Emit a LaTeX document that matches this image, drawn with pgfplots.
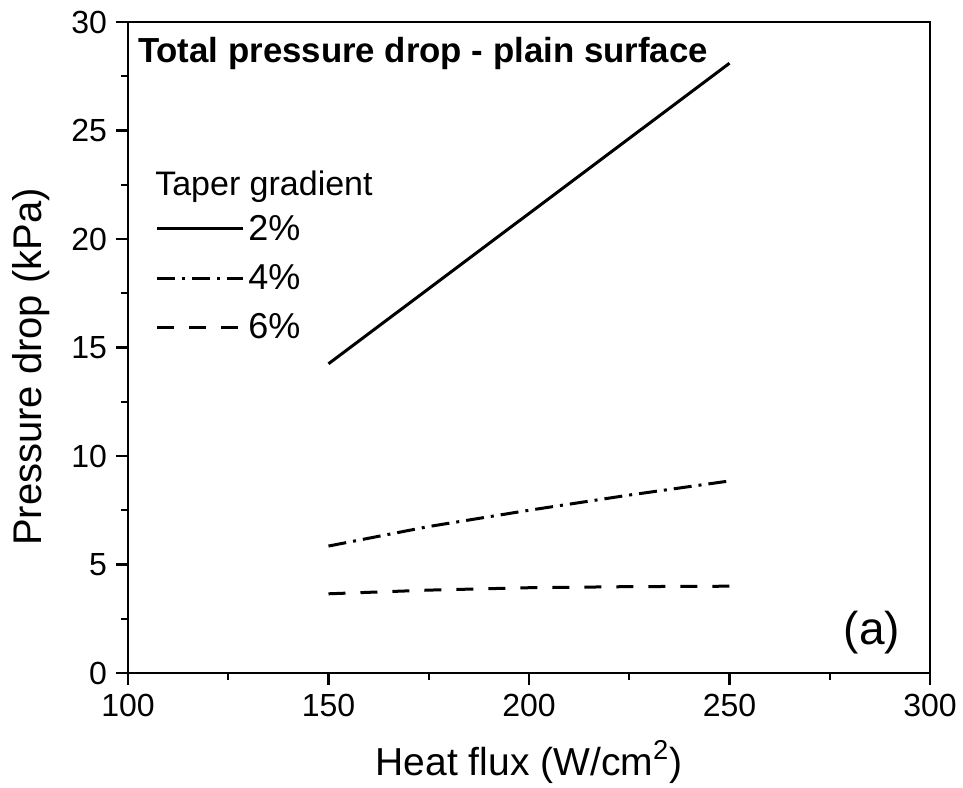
\documentclass[border=0pt]{standalone}
\usepackage{pgfplots}
\pgfplotsset{compat=1.18}
\usepackage{fontspec}
\setmainfont{Liberation Sans}
\begin{document}
\begin{tikzpicture}
\useasboundingbox (-64pt,-57pt) rectangle (417.5pt,336.5pt);
\begin{axis}[
  at={(0,0)}, anchor=south west,
  scale only axis, width=401pt, height=325.5pt,
  xmin=100, xmax=300, ymin=0, ymax=30,
  xtick={100,150,200,250,300}, ytick={0,5,10,15,20,25,30},
  minor x tick num=1, minor y tick num=1,
  xtick pos=bottom, ytick pos=left,
  tick align=outside,
  major tick length=6pt, minor tick length=3.5pt,
  axis line style={line width=1.3pt},
  every tick/.style={line width=1.2pt, black},
  /pgf/number format/assume math mode=true,
  tick label style={font=\fontsize{16}{19}\selectfont},
  yticklabel style={xshift=-1pt},
  xticklabel style={yshift=-1pt},
  xlabel={Heat flux (W/cm\textsuperscript{2})},
  ylabel={Pressure drop (kPa)},
  xlabel style={font=\fontsize{19.5}{23}\selectfont, at={(axis description cs:0.5,0)}, anchor=base, yshift=-51pt},
  ylabel style={font=\fontsize{20}{24}\selectfont, at={(axis description cs:0,0.47)}, anchor=base, yshift=43pt},
  legend style={draw=none, fill=none, at={(axis description cs:0.0337,0.7104)}, anchor=north west,
    font=\fontsize{18}{21}\selectfont, row sep=6.5pt, inner sep=0pt},
  legend cell align=left,
  legend image code/.code={\draw[#1] (0pt,0pt) -- (43pt,0pt);},
]
\addplot[black, line width=1.5pt] coordinates {(150,14.25) (250,28.1)};
\addlegendentry{2\%}
\addplot[black, line width=1.5pt, dash pattern=on 9pt off 3.5pt on 1.5pt off 3.5pt] coordinates {(150,5.85) (175,6.75) (200,7.5) (225,8.2) (250,8.85)};
\addlegendentry{4\%}
\addplot[black, line width=1.5pt, dash pattern=on 8.5pt off 7.5pt] coordinates {(150,3.65) (175,3.82) (200,3.93) (225,3.98) (250,4.0)};
\addlegendentry{6\%}
\node[anchor=base west, inner sep=0pt, font=\bfseries\fontsize{17.4}{20}\selectfont] at (axis cs:102.4,28.15) {Total pressure drop - plain surface};
\node[anchor=base west, inner sep=0pt, font=\fontsize{17}{20}\selectfont] at (axis cs:106.7,22.0) {Taper gradient};
\node[anchor=base east, inner sep=0pt, font=\fontsize{23}{27}\selectfont] at (axis cs:292.6,1.3) {(a)};
\end{axis}
\end{tikzpicture}
\end{document}
